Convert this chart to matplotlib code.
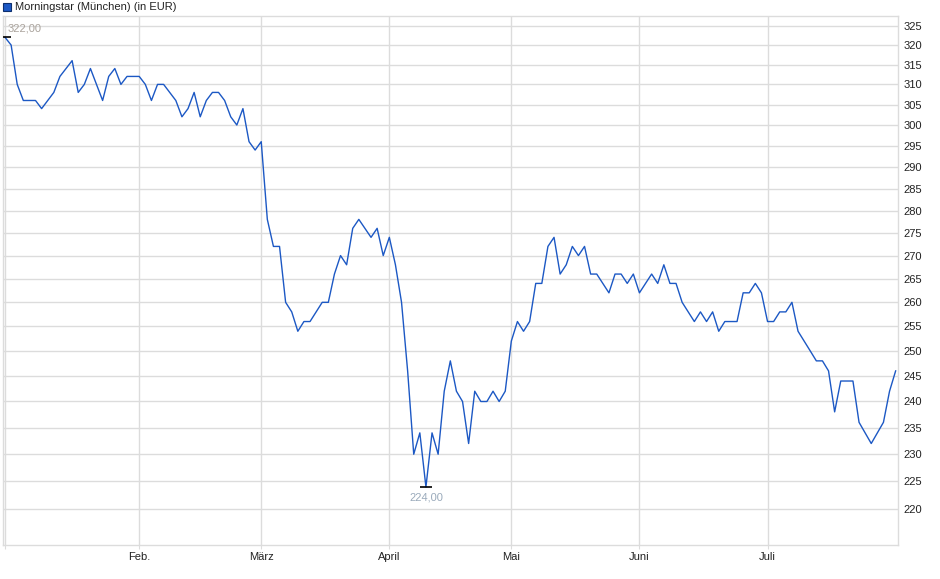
import numpy as np
import pandas as pd
import matplotlib
matplotlib.use('Agg')
import matplotlib.pyplot as plt
from matplotlib.ticker import NullLocator

plt.rcParams['font.family'] = ['Liberation Sans', 'DejaVu Sans']

# Morningstar (München), daily closes in EUR, 2025
prices = [
    322, 320, 310, 306, 306, 306, 304, 306, 308, 312,
    314, 316, 308, 310, 314, 310, 306, 312, 314, 310,
    312, 312, 312, 310, 306, 310, 310, 308, 306, 302,
    304, 308, 302, 306, 308, 308, 306, 302, 300, 304,
    296, 294, 296, 278, 272, 272, 260, 258, 254, 256,
    256, 258, 260, 260, 266, 270, 268, 276, 278, 276,
    274, 276, 270, 274, 268, 260, 246, 230, 234, 224,
    234, 230, 242, 248, 242, 240, 232, 242, 240, 240,
    242, 240, 242, 252, 256, 254, 256, 264, 264, 272,
    274, 266, 268, 272, 270, 272, 266, 266, 264, 262,
    266, 266, 264, 266, 262, 264, 266, 264, 268, 264,
    264, 260, 258, 256, 258, 256, 258, 254, 256, 256,
    256, 262, 262, 264, 262, 256, 256, 258, 258, 260,
    254, 252, 250, 248, 248, 246, 238, 244, 244, 244,
    236, 234, 232, 234, 236, 242, 246,
]
holidays = ['2025-01-01', '2025-04-18', '2025-04-21', '2025-05-01']
month_names = {2: 'Feb.', 3: 'März', 4: 'April', 5: 'Mai', 6: 'Juni', 7: 'Juli'}
y_ticks = list(range(220, 330, 5))

dates = pd.date_range('2025-01-02', periods=len(prices),
                      freq=pd.offsets.CustomBusinessDay(holidays=holidays))
idx = np.arange(len(prices))
months = dates.month.values
month_pos = [i for i in range(1, len(dates)) if months[i] != months[i - 1]]

grid_c = '#dcdcdc'
line_c = '#1c58c4'

fig = plt.figure(figsize=(9.4, 5.79), dpi=100)
ax = fig.add_axes([0.0032, 0.0587, 0.9524, 0.9137])

ax.plot(idx, prices, color=line_c, lw=1.0, zorder=3)

ax.set_yscale('log')
ax.set_ylim(213.75, 327.6)
ax.set_xlim(-0.33, len(prices) - 0.57)

ax.yaxis.set_minor_locator(NullLocator())
ax.set_yticks(y_ticks)
ax.set_yticklabels([str(t) for t in y_ticks])
ax.yaxis.tick_right()
ax.tick_params(axis='y', length=0, pad=3.5, labelsize=8, labelcolor='#222222')

ax.set_xticks([0] + month_pos)
ax.set_xticklabels([''] + [month_names[months[i]] for i in month_pos])
ax.tick_params(axis='x', length=3, color=grid_c, pad=2, labelsize=8,
               labelcolor='#222222')

ax.grid(True, color=grid_c, lw=1.0, zorder=0)
for s in ax.spines.values():
    s.set_color(grid_c)
    s.set_linewidth(1.0)

# highest and lowest value markers
imax = int(np.argmax(prices))
imin = int(np.argmin(prices))
ax.plot([imax], [prices[imax]], marker='_', ms=8, mew=1.2, color='black', zorder=4)
ax.plot([imin], [prices[imin]], marker='_', ms=8, mew=1.2, color='black', zorder=4)
ax.annotate(f'{prices[imax]:.2f}'.replace('.', ','), (imax, prices[imax]),
            xytext=(2, 3), textcoords='offset points', ha='left', va='bottom',
            fontsize=8, color='#aaa39c')
ax.annotate(f'{prices[imin]:.2f}'.replace('.', ','), (imin, prices[imin]),
            xytext=(0, -4), textcoords='offset points', ha='center', va='top',
            fontsize=8, color='#9aaabb')

# legend-like header
fig.patches.append(plt.Rectangle((3 / 940, 1 - 11 / 579), 8 / 940, 8 / 579,
                                 transform=fig.transFigure, facecolor=line_c,
                                 edgecolor='#0d2f6e', lw=0.8))
fig.text(15 / 940, 1 - 6.5 / 579, 'Morningstar (München) (in EUR)',
         fontsize=8, color='#222222', va='center', ha='left')

fig.savefig('out.png', dpi=100)
